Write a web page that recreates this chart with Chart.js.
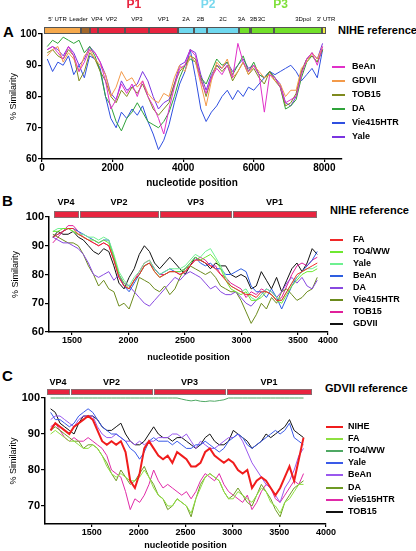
<!DOCTYPE html>
<html>
<head>
<meta charset="utf-8">
<script src="https://cdn.jsdelivr.net/npm/chart.js@4.4.1/dist/chart.umd.min.js"></script>
<style>
  body { margin: 0; background: #fff; width: 416px; height: 551px; position: relative; overflow: hidden;
         font-family: "Liberation Sans", Arial, sans-serif; }
  canvas { position: absolute; left: 0; }
  .t { position: absolute; font-weight: bold; white-space: nowrap; line-height: 1; color: #000; }
  .lgl { position: absolute; height: 2px; }
  .lgt { position: absolute; font-size: 9px; font-weight: bold; line-height: 1; white-space: nowrap; }
</style>
</head>
<body>
<div class="t" style="left:3px;top:24px;font-size:15px">A</div>
<div class="t" style="left:338px;top:25px;font-size:11px">NIHE reference</div>
<div class="t" style="left:2px;top:193px;font-size:15px">B</div>
<div class="t" style="left:330px;top:205px;font-size:11px">NIHE reference</div>
<div class="t" style="left:2px;top:368px;font-size:15px">C</div>
<div class="t" style="left:325px;top:383px;font-size:11px">GDVII reference</div>

<canvas id="chartA" width="416" height="192" style="top:0px"></canvas>
<canvas id="chartB" width="416" height="175" style="top:190px"></canvas>
<canvas id="chartC" width="416" height="186" style="top:365px"></canvas>

<script>
// ---------- Panel A: full genome, NIHE reference ----------
const posA = [150,300,450,600,750,900,1050,1200,1350,1500,1650,1800,1950,2100,2250,2400,2550,2700,2850,3000,
  3150,3300,3450,3600,3750,3900,4050,4200,4350,4500,4650,4800,4950,5100,5250,5400,5550,5700,5850,6000,
  6150,6300,6450,6600,6750,6900,7050,7200,7350,7500,7650,7800,7950];
const a_BeAn = [95,96,94,92,96,93,88,91,95,94,91,85,76,79,84,81,84,80,85,80,77,73,68,76,83,89,90,95,93,85,81,86,89,87,90,86,97,91,88,90,87,75,87,86,83,78,79,80,87,92,94,90,96];
const a_GDVII = [93,95,96,91,94,92,88,93,95,92,90,87,80,83,88,85,86,83,85,81,79,78,81,80,86,90,88,93,91,84,77,85,91,89,92,86,88,91,87,90,88,86,87,85,84,80,82,82,89,91,94,92,96];
const a_TOB15 = [94,95,93,92,95,93,85,88,94,92,88,85,80,78,82,80,83,81,84,80,76,74,76,78,84,88,90,93,92,86,80,86,90,88,90,85,88,91,87,89,86,84,88,85,83,77,78,81,88,92,93,91,95];
const a_DA = [96,98,97,99,98,97,98,94,96,93,88,80,77,72,69,73,75,78,75,72,71,70,72,75,80,86,90,92,91,86,84,88,92,90,91,87,90,93,88,91,87,86,88,86,83,76,77,79,86,91,93,91,95];
const a_Vie415HTR = [92,88,91,90,93,87,90,86,93,92,89,80,73,70,75,73,76,74,77,72,68,63,66,71,78,84,88,95,86,76,72,75,77,80,82,79,82,80,83,82,84,86,88,87,88,89,90,88,85,87,89,86,95];
const a_Yale = [95,96,95,93,96,94,90,92,96,94,91,87,81,79,85,82,83,84,88,85,80,76,78,79,84,90,91,95,94,87,82,87,90,89,91,88,90,92,89,90,87,86,88,86,84,78,77,80,88,92,94,92,97];
const namesA = ["BeAn", "GDVII", "TOB15", "DA", "Vie415HTR", "Yale"];
const colorsA = ["#e030c8", "#f39a4a", "#7f8a1e", "#2fa33a", "#2f4fe0", "#7a34e0"];
const ticksA = [0, 2000, 4000, 6000, 8000];

// genome map (nucleotide boundaries)
const genomeNames = ["5' UTR","Leader","VP4","VP2","VP3","VP1","2A","2B","2C","3A","3B","3C","3Dpol","3' UTR"];
const genomeBounds = [60,1100,1355,1580,2345,3025,3845,4295,4665,5570,5880,5935,6560,7945,8060];
const genomeColors = ["#f6a94c","#a3672b","#e8243f","#e8243f","#e8243f","#e8243f",
  "#6fd8ef","#6fd8ef","#6fd8ef","#72e02a","#72e02a","#72e02a","#72e02a","#f2ef45"];
const groupNames = ["P1", "P2", "P3"];
const groupRanges = [[2, 5], [6, 8], [9, 12]];
const groupColors = ["#e8243f", "#78d8ee", "#7ee03a"];

// ---------- Panel B: capsid, NIHE reference ----------
const posB = [1330,1375,1420,1465,1510,1555,1600,1645,1690,1735,1780,1825,1870,1915,1960,2005,2050,2095,2140,2185,
  2230,2275,2320,2365,2410,2455,2500,2545,2590,2635,2680,2725,2770,2815,2860,2905,2950,2995,3040,3085,
  3130,3175,3220,3265,3310,3355,3400,3445,3490,3535,3580,3625,3670];
const b_FA = [93,94,95,96,96,94,93,92,91,90,91,90,85,79,76,75,78,80,83,84,81,79,80,81,81,80,81,83,85,85,84,83,82,80,78,76,75,74,73,73,72,74,74,73,71,71,74,77,80,81,82,83,84];
const b_TO4WW = [95,95,96,96,95,94,93,92,92,91,92,91,86,80,77,75,78,80,83,84,81,79,80,81,81,81,82,84,86,85,86,87,85,82,78,75,74,73,74,71,71,72,74,73,71,70,73,76,78,80,81,81,82];
const b_Yale = [95,96,96,96,95,94,94,93,93,92,93,92,87,81,78,76,79,81,84,85,82,80,81,82,82,82,83,85,87,86,88,89,86,83,79,76,75,74,75,72,71,73,75,74,72,71,74,77,79,81,82,82,83];
const b_BeAn = [93,94,95,96,96,95,94,93,92,91,92,92,86,80,76,74,77,80,83,84,82,80,81,82,81,81,82,84,86,84,83,84,82,82,80,80,81,82,81,76,74,74,72,75,72,68,72,76,79,81,83,85,88];
const b_DA = [93,92,91,91,90,89,87,84,80,79,80,81,78,80,77,76,74,72,70,69,71,73,75,77,79,78,80,81,80,79,77,75,76,74,73,73,74,72,70,69,71,73,75,74,72,74,77,79,77,79,76,75,78];
const b_Vie415HTR = [94,93,92,91,91,90,87,83,80,76,78,75,74,69,70,68,73,79,78,77,75,74,76,73,75,79,82,83,82,81,80,81,79,76,75,74,74,71,67,63,66,70,68,72,70,74,75,73,71,72,74,75,79];
const b_TOB15 = [91,93,95,97,97,95,93,92,91,90,91,90,85,79,76,75,78,81,84,85,82,80,80,81,81,80,81,83,85,86,85,83,83,80,79,77,76,75,72,74,73,75,74,73,71,72,76,80,83,84,83,85,86];
const b_GDVII = [93,95,94,94,95,93,92,90,88,87,89,88,83,77,75,79,82,87,90,88,84,82,84,86,84,82,80,83,86,85,84,82,84,83,83,80,79,80,79,75,76,81,78,75,79,74,78,82,84,81,84,89,87];
const namesB = ["FA", "TO4/WW", "Yale", "BeAn", "DA", "Vie415HTR", "TOB15", "GDVII"];
const colorsB = ["#f02828", "#6ee830", "#6ef090", "#2e5ee0", "#8848e0", "#6b8a1c", "#e0209a", "#111111"];
const ticksB = [1500, 2000, 2500, 3000, 3500, 4000];
const capsidNames = ["VP4", "VP2", "VP3", "VP1"];
const capsidBoundsB = [1330, 1558, 2266, 2912, 3668];

// ---------- Panel C: capsid, GDVII reference ----------
const posC = [1060,1110,1160,1210,1260,1310,1360,1410,1460,1510,1560,1610,1660,1710,1760,1810,1860,1910,1960,2010,
  2060,2110,2160,2210,2260,2310,2360,2410,2460,2510,2560,2610,2660,2710,2760,2810,2860,2910,2960,3010,
  3060,3110,3160,3210,3260,3310,3360,3410,3460,3510,3560,3610,3660,3710,3760];
const c_NIHE = [91,93,92,91,90,92,93,94,95,94,91,88,87,88,87,88,85,77,75,79,86,88,86,84,83,84,82,85,84,83,81,81,82,85,86,84,83,82,83,82,80,79,80,75,77,78,77,75,73,75,78,81,77,83,89];
const c_FA = [90,91,90,89,88,88,87,86,86,87,86,84,81,79,78,79,78,77,77,78,80,78,75,73,72,70,70,72,71,70,68,72,75,78,79,78,77,74,72,72,74,73,72,71,73,75,74,71,70,68,71,72,74,76,76];
const c_TO4WW = [100,100,100,100,100,100,100,100,100,100,100,100,100,100,100,100,100,100,100,100,100,100,100,100,100,100,100,100,
  99.7,99.4,99.2,99.4,99.1,99.0,99.2,99.1,99.3,99.5,100,100,100,100,100,100,100,100,100,100,100,100,100,100,100,100,100];
const c_Yale = [96,94,94,93,92,93,95,96,97,96,94,92,91,90,90,89,88,86,85,83,85,88,89,88,88,88,87,88,87,86,86,87,87,88,87,86,85,86,88,89,90,89,87,86,87,88,89,90,91,90,91,93,89,88,87];
const c_BeAn = [94,95,95,94,93,92,94,95,95,95,92,90,89,89,90,89,88,88,87,88,87,88,88,89,89,89,90,90,89,90,88,86,88,87,86,86,87,88,89,89,90,88,85,82,80,78,76,75,73,71,75,77,80,84,86];
const c_DA = [91,92,91,90,89,88,88,86,87,87,86,84,82,79,77,80,78,76,77,79,81,78,76,73,72,69,70,72,71,70,67,72,76,78,79,78,77,74,72,73,75,73,71,70,73,76,74,72,69,67,71,73,75,76,77];
const c_Vie515HTR = [92,93,91,89,88,89,88,88,89,88,87,86,84,80,79,78,74,69,72,71,73,76,80,77,75,76,75,74,73,74,72,74,77,79,78,77,79,76,74,73,72,71,73,69,71,74,76,75,72,71,73,75,77,76,79];
const c_TOB15 = [97,96,93,92,91,90,93,95,95,95,94,92,91,91,92,93,90,88,87,87,88,90,92,90,89,89,88,89,89,88,87,86,87,89,90,88,87,87,88,91,90,89,88,86,87,88,90,89,90,91,92,94,91,90,89];
const namesC = ["NIHE", "FA", "TO4/WW", "Yale", "BeAn", "DA", "Vie515HTR", "TOB15"];
const colorsC = ["#f01c1c", "#8ee040", "#4fa864", "#3a5ae8", "#9a58ee", "#6e9a24", "#e02aa8", "#111111"];
const ticksC = [1500, 2000, 2500, 3000, 3500, 4000];
const capsidBoundsC = [1010, 1262, 2148, 2928, 3852];

const FONT = "'Liberation Sans', Arial, sans-serif";

// draws the genome / capsid map above a plot
const genomeBar = {
  id: "genomeBar",
  afterDraw(chart, args, o) {
    if (!o.names) return;
    const { ctx, chartArea, scales: { x } } = chart;
    const y0 = chartArea.top + o.dy;
    ctx.save();
    for (let i = 0; i < o.names.length; i++) {
      const x0 = Math.round(x.getPixelForValue(o.bounds[i]));
      const x1 = Math.round(x.getPixelForValue(o.bounds[i + 1]));
      ctx.fillStyle = o.colors[i];
      ctx.fillRect(x0 + o.gap, y0, x1 - x0 - o.gap, o.h);
      ctx.strokeStyle = o.stroke;
      ctx.lineWidth = 1;
      ctx.strokeRect(x0 + o.gap + 0.5, y0 + 0.5, x1 - x0 - o.gap - 1, o.h - 1);
      ctx.fillStyle = "#000";
      ctx.font = o.font;
      ctx.textAlign = "center";
      ctx.textBaseline = "middle";
      const shift = o.shift ? o.shift[i] : 0;
      ctx.fillText(o.names[i], (x0 + x1) / 2 + shift, chartArea.top + o.labelDy);
    }
    if (o.groups) {
      ctx.font = "bold 12px " + FONT;
      o.groups.forEach((g, k) => {
        const gx0 = x.getPixelForValue(o.bounds[o.groupRanges[k][0]]);
        const gx1 = x.getPixelForValue(o.bounds[o.groupRanges[k][1] + 1]);
        ctx.fillStyle = o.groupColors[k];
        ctx.fillText(g, (gx0 + gx1) / 2, chartArea.top + o.groupDy);
      });
    }
    ctx.restore();
  }
};

function makeChart(id, p) {
  const datasets = p.series.map((d, i) => ({
    label: p.names[i],
    data: d.map((v, j) => ({ x: p.pos[j], y: v })),
    borderColor: p.colors[i],
    borderWidth: p.widths ? p.widths[i] : 1,
    pointRadius: 0,
    tension: 0,
    fill: false,
    clip: false,
    order: p.order ? p.order[i] : 0
  }));
  const axisGrid = { display: true, drawOnChartArea: false, drawTicks: true, tickLength: 4, color: "#000", lineWidth: 1.2 };
  return new Chart(document.getElementById(id).getContext("2d"), {
    type: "line",
    data: { datasets },
    options: {
      responsive: false,
      animation: false,
      events: [],
      layout: { padding: p.padding },
      plugins: { legend: { display: false }, tooltip: { enabled: false }, genomeBar: p.bar },
      scales: {
        x: {
          type: "linear",
          min: p.xMin,
          max: p.xMax,
          border: { color: "#000", width: 1.5 },
          grid: Object.assign({}, axisGrid, { tickLength: 3 }),
          // tick labels come from the panel's tick list; the last one is clamped to the axis end
          afterBuildTicks: (s) => { s.ticks = p.xTickList.map((v) => ({ value: Math.min(v, s.max) })); },
          ticks: {
            color: "#000",
            padding: 0,
            maxRotation: 0,
            autoSkip: false,
            callback: (v, i) => String(p.xTickList[i]),
            font: { family: FONT, size: p.xFont, weight: "bold" }
          },
          afterFit: (s) => { s.height = p.xHeight; },
          title: {
            display: true,
            text: "nucleotide position",
            color: "#000",
            font: { family: FONT, size: p.xTitleFont, weight: "bold" },
            padding: { top: 0, bottom: p.xTitlePad }
          }
        },
        y: {
          min: p.yMin,
          max: 100,
          border: { color: "#000", width: 1.5 },
          grid: axisGrid,
          ticks: {
            color: "#000",
            stepSize: 10,
            padding: 1,
            includeBounds: false,
            font: { family: FONT, size: p.yFont, weight: "bold" }
          },
          afterFit: (s) => { s.width = p.yWidth; },
          title: {
            display: true,
            text: "% Similarity",
            color: "#000",
            font: { family: FONT, size: 9 },
            padding: { top: p.yTitlePad, bottom: 0 }
          }
        }
      }
    },
    plugins: [genomeBar]
  });
}

function addLegend(names, colors, cfg) {
  names.forEach((n, i) => {
    const y = cfg.y + i * cfg.step;
    const l = document.createElement("div");
    l.className = "lgl";
    l.style.cssText = `left:${cfg.lx}px;top:${y - 1}px;width:${cfg.lw}px;background:${colors[i]}`;
    document.body.appendChild(l);
    const t = document.createElement("div");
    t.className = "lgt";
    t.style.cssText = `left:${cfg.tx}px;top:${y - 5}px`;
    t.textContent = n;
    document.body.appendChild(t);
  });
}

// Panel A
makeChart("chartA", {
  pos: posA,
  series: [a_BeAn, a_GDVII, a_TOB15, a_DA, a_Vie415HTR, a_Yale],
  names: namesA, colors: colorsA,
  xMin: 0, xMax: 8500, xTickList: ticksA,
  yMin: 60,
  padding: { left: 0, right: 74, top: 34, bottom: 0 },
  yWidth: 42, xHeight: 33, xFont: 10, yFont: 10, xTitleFont: 10, xTitlePad: 3, yTitlePad: 8,
  bar: {
    names: genomeNames, bounds: genomeBounds, colors: genomeColors,
    dy: -7, h: 7, gap: 0, stroke: "#555", labelDy: -15,
    font: "6px 'Liberation Sans Narrow', 'Liberation Sans', Arial",
    shift: [-5, -7, 3, 0, 0, 0, 0, 0, 0, -3, 3, -1, 5, 2],
    groups: groupNames, groupRanges: groupRanges, groupColors: groupColors, groupDy: -29
  }
});
addLegend(namesA, colorsA, { lx: 332, lw: 13, tx: 352, y: 67, step: 14 });

// Panel B
makeChart("chartB", {
  pos: posB,
  series: [b_FA, b_TO4WW, b_Yale, b_BeAn, b_DA, b_Vie415HTR, b_TOB15, b_GDVII],
  names: namesB, colors: colorsB,
  xMin: 1296, xMax: 3765, xTickList: ticksB,
  yMin: 60,
  padding: { left: 0, right: 88, top: 27, bottom: 0 },
  yWidth: 49, xHeight: 33, xFont: 9, yFont: 11, xTitleFont: 9, xTitlePad: 2, yTitlePad: 10,
  bar: {
    names: capsidNames, bounds: capsidBoundsB, colors: ["#e8243f", "#e8243f", "#e8243f", "#e8243f"],
    dy: -6, h: 7, gap: 1, stroke: "#8a6a6e", labelDy: -14, font: "bold 9px " + FONT
  }
});
addLegend(namesB, colorsB, { lx: 330, lw: 13, tx: 353, y: 240, step: 12 });

// Panel C
makeChart("chartC", {
  pos: posC,
  series: [c_NIHE, c_FA, c_TO4WW, c_Yale, c_BeAn, c_DA, c_Vie515HTR, c_TOB15],
  names: namesC, colors: colorsC,
  widths: [2, 1, 1, 1, 1, 1, 1, 1],
  order: [-1, 0, 0, 0, 0, 0, 0, 0],
  xMin: 1000, xMax: 4000, xTickList: ticksC,
  yMin: 65,
  padding: { left: 0, right: 90, top: 33, bottom: 0 },
  yWidth: 45, xHeight: 27, xFont: 9, yFont: 11, xTitleFont: 9, xTitlePad: 0, yTitlePad: 8,
  bar: {
    names: capsidNames, bounds: capsidBoundsC, colors: ["#e8243f", "#e8243f", "#e8243f", "#e8243f"],
    dy: -9, h: 6, gap: 1, stroke: "#8a6a6e", labelDy: -15, font: "bold 9px " + FONT
  }
});
addLegend(namesC, colorsC, { lx: 326, lw: 17, tx: 348, y: 427, step: 12.1 });
</script>
</body>
</html>
